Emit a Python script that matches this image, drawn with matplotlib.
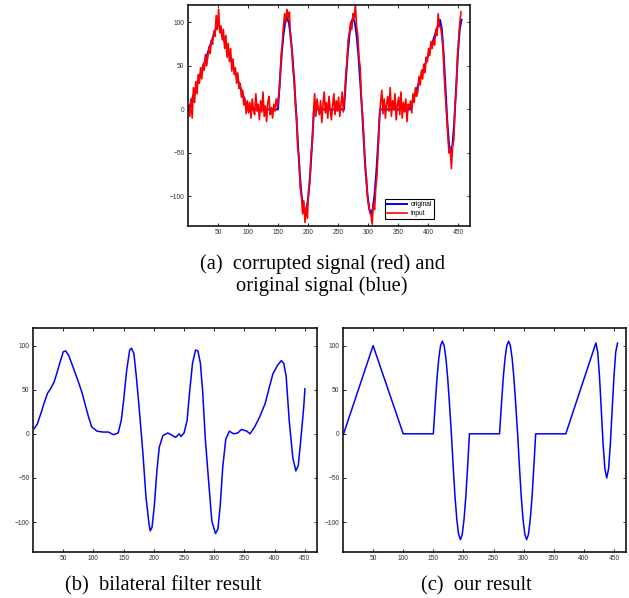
import numpy as np
import matplotlib
matplotlib.use("Agg")
import matplotlib.pyplot as plt

# -----------------------------
# Data
# -----------------------------

# original (clean) signal, knots of the piecewise curve
original_x = [1, 50, 100, 150,
              153, 156, 159, 162, 165, 168, 171, 174, 177, 180,
              183, 186, 189, 192, 195, 198, 201, 204, 207, 210,
              260, 263, 266, 269, 272, 275, 278, 281, 284, 287, 290,
              293, 296, 299, 302, 305, 308, 311, 314, 317, 320,
              370, 420, 423, 426, 429, 432, 435, 438, 441, 444, 447, 450, 453, 456]
original_y = [0, 100, 0, 0,
              32, 62, 85, 100, 105, 100, 85, 62, 32, 0,
              -37, -71, -97, -114, -120, -114, -97, -71, -37, 0,
              0, 32, 62, 85, 100, 105, 100, 85, 62, 32, 0,
              -37, -71, -97, -114, -120, -114, -97, -71, -37, 0,
              0, 103, 93, 65, 27, -12, -40, -50, -40, -12, 27, 65, 93, 103]

# our result looks the same as the original
ours_x = original_x
ours_y = original_y

# corrupted input, sampled every 2 points from x = 1 to 455
input_x = np.arange(1, 456, 2)
input_y = [4, -8, 12, -10, 25, 8, 32, 18, 40, 30,
           48, 35, 52, 45, 63, 50, 60, 72, 64, 80,
           75, 90, 84, 108, 92, 115, 88, 96, 80, 92,
           70, 85, 60, 76, 55, 70, 44, 58, 40, 48,
           30, 42, 24, 30, 14, 22, 5, 12, -5, 10,
           -4, 8, -10, 12, 0, -6, 18, -2, 6, -12,
           10, -3, 20, -8, 4, -14, 8, 15, -6, 2,
           -10, 6, -2, 12, 3,
           15, 28, 60, 75, 95, 110, 100, 115, 105, 112,
           80, 72, 45, 38, 5, -10, -45, -55, -90, -98,
           -120, -105, -130, -112, -125, -92, -85, -52, -40, -5,
           18, -8, 12, 2, -6, 10, -15, 6, 20, -4,
           8, -10, 15, 0, -12, 4, 18, -6, 10, -2,
           14, -8, 6, 20, -3,
           15, 40, 55, 80, 88, 100, 92, 110, 105, 120,
           95, 85, 60, 48, 12, -8, -30, -65, -75, -100,
           -110, -118, -122, -132, -108, -115, -90, -75, -45, -10,
           8, 22, -5, 12, -10, 6, 15, -2, 25, -8,
           10, 0, 18, -12, 5, 14, -6, 20, -10, 8,
           -3, 12, -14, 6, 2,
           10, -4, 18, 8, 25, 15, 20, 38, 28, 45,
           35, 52, 42, 60, 55, 70, 62, 78, 70, 80,
           74, 92, 85, 110, 95,
           95, 85, 70, 40, 15, -5, -30, -50, -45, -68,
           -42, -35, 5, 20, 60, 80, 100, 112]

# bilateral filter result
bilateral_x = [2, 7, 13, 18, 24, 29, 35, 40, 46, 50, 54, 59, 65, 73, 81, 86, 92, 97,
               106, 116, 125, 133, 141, 146, 150, 155, 160, 163, 167, 171, 176, 182,
               187, 192, 194, 197, 201, 205, 209, 215, 223, 231, 236, 242, 245, 250,
               255, 259, 264, 269, 273, 277, 281, 285, 291, 296, 302, 306, 310, 314,
               319, 325, 332, 339, 345, 354, 359, 367, 375, 384, 392, 397, 405, 411,
               415, 419, 424, 430, 435, 439, 443, 448, 450]
bilateral_y = [6, 11, 23, 34, 46, 51, 59, 70, 84, 93, 94, 89, 78, 63, 47, 34, 19, 8,
               3, 2, 2, -1, 1, 15, 38, 72, 95, 97, 91, 65, 27, -23,
               -72, -102, -110, -106, -80, -42, -15, -2, 1, -2, -4, 0, -3, 1,
               15, 46, 80, 95, 94, 80, 46, -4, -57, -99, -113, -108, -80, -38,
               -6, 3, 0, 1, 5, 3, 0, 8, 19, 34, 55, 68, 78, 83,
               80, 65, 15, -27, -42, -36, -8, 30, 51]

x_ticks = [50, 100, 150, 200, 250, 300, 350, 400, 450]
y_ticks = [-100, -50, 0, 50, 100]
x_lim = (0, 470)
y_lim = (-134, 120)

# -----------------------------
# Figure layout (pixel boxes)
# -----------------------------

W, H = 629, 598
fig = plt.figure(figsize=(W / 100, H / 100), dpi=100)


def add_box(left, top, right, bottom):
    return fig.add_axes([left / W, 1 - bottom / H, (right - left) / W, (bottom - top) / H])


def style(ax):
    ax.set_xlim(*x_lim)
    ax.set_ylim(*y_lim)
    ax.set_xticks(x_ticks)
    ax.set_yticks(y_ticks)
    ax.tick_params(direction="in", length=2.5, width=0.6, top=True, right=True,
                   labelsize=4.8, labelcolor="#333333", pad=2.5)
    for lab in ax.get_xticklabels() + ax.get_yticklabels():
        lab.set_family("Liberation Sans")
    for s in ax.spines.values():
        s.set_linewidth(1.1)


# (a) corrupted vs original
ax_a = add_box(188, 5, 470, 226)
ax_a.plot(original_x, original_y, color="blue", lw=1.4, label="original")
ax_a.plot(input_x, input_y, color="red", lw=1.2, label="input")
style(ax_a)
leg = ax_a.legend(loc="lower right", bbox_to_anchor=(0.885, 0.015),
                  fancybox=False, framealpha=1, edgecolor="black",
                  handlelength=3.0, borderpad=0.35, labelspacing=0.25,
                  handletextpad=0.5,
                  prop={"family": "Liberation Sans", "size": 4.8})
leg.get_frame().set_linewidth(0.8)

# (b) bilateral filter
ax_b = add_box(33, 328, 317, 552)
ax_b.plot(bilateral_x, bilateral_y, color="blue", lw=1.1)
style(ax_b)

# (c) our result
ax_c = add_box(343, 328, 626, 552)
ax_c.plot(ours_x, ours_y, color="blue", lw=1.1)
style(ax_c)

# -----------------------------
# Captions
# -----------------------------

cap = dict(family="Liberation Serif", fontsize=14.8, ha="center", va="baseline")
fig.text(322 / W, 1 - 269 / H, "(a)  corrupted signal (red) and", **cap)
fig.text(322 / W, 1 - 291 / H, "original signal (blue)", **cap)
fig.text(163 / W, 1 - 590 / H, "(b)  bilateral filter result", **cap)
fig.text(476 / W, 1 - 590 / H, "(c)  our result", **cap)

fig.savefig("out.png", dpi=100)
